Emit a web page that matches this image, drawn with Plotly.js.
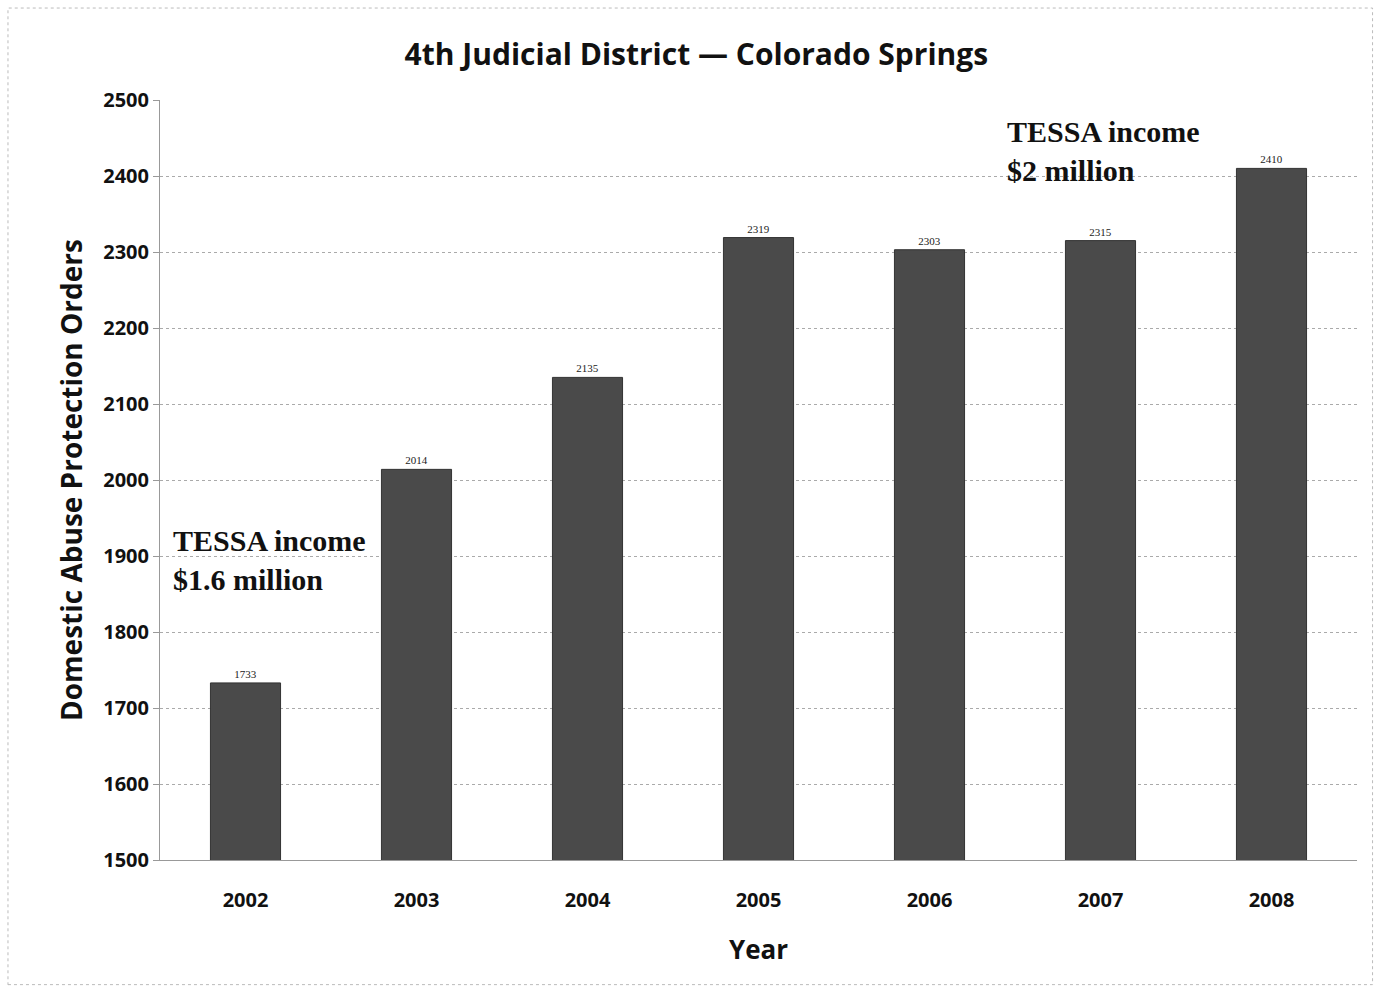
<!DOCTYPE html>
<html>
<head>
<meta charset="utf-8">
<script src="https://cdn.plot.ly/plotly-3.0.1.min.js"></script>
<style>
html,body{margin:0;padding:0;background:#fff;}
#chart{width:1379px;height:991px;}
</style>
</head>
<body>
<div id="chart"></div>
<script>
const years = ['2002','2003','2004','2005','2006','2007','2008'];
const orders = [1733, 2014, 2135, 2319, 2303, 2315, 2410];
const yTicks = [1500,1600,1700,1800,1900,2000,2100,2200,2300,2400,2500];

const trace = {
  type: 'bar',
  x: years,
  y: orders,
  marker: {color: '#4a4a4a', line: {color: '#333', width: 1}},
  text: orders.map(String),
  textposition: 'outside',
  textfont: {family: 'Liberation Serif', size: 11, color: '#222'},
  cliponaxis: false,
  hoverinfo: 'x+y'
};

const layout = {
  width: 1379, height: 991,
  margin: {l: 160, r: 22, t: 100, b: 131},
  paper_bgcolor: '#fff', plot_bgcolor: '#fff',
  bargap: 0.59,
  showlegend: false,
  title: {
    text: '<b>4th Judicial District — Colorado Springs</b>',
    font: {family: 'Open Sans', size: 30, color: '#111'},
    x: 0.505, xanchor: 'center', y: 0.945, yanchor: 'middle'
  },
  xaxis: {
    type: 'category',
    tickfont: {family: 'Open Sans', size: 20, color: '#111', weight: 'bold'},
    ticks: '', showgrid: false, showline: true, linecolor: '#999', linewidth: 1,
    ticklabelstandoff: 22,
    title: {text: '<b>Year</b>', font: {family: 'Open Sans', size: 26, color: '#111'}, standoff: 28}
  },
  yaxis: {
    range: [1500, 2500],
    tickvals: yTicks,
    ticktext: yTicks.map(String),
    tickfont: {family: 'Open Sans', size: 20, color: '#111', weight: 'bold'},
    ticks: 'outside', ticklen: 6, tickcolor: '#999',
    showgrid: true, gridcolor: '#aaa', griddash: 'dot', gridwidth: 1,
    showline: true, linecolor: '#999', linewidth: 1,
    zeroline: false,
    title: {text: '<b>Domestic Abuse Protection Orders</b>', font: {family: 'Open Sans', size: 28, color: '#111'}, standoff: 12}
  },
  shapes: [
    {type: 'rect', xref: 'paper', yref: 'paper', x0: -0.127, x1: 1.013, y0: -0.164, y1: 1.121,
     line: {color: '#bbb', width: 1, dash: 'dot'}, layer: 'below'}
  ],
  annotations: [
    {xref: 'paper', yref: 'paper', x: 0.009, y: 0.395, xanchor: 'left', yanchor: 'middle', align: 'left',
     text: '<b>TESSA income<br>$1.6 million</b>', showarrow: false,
     font: {family: 'Liberation Serif', size: 30, color: '#111'}},
    {xref: 'paper', yref: 'paper', x: 0.706, y: 0.933, xanchor: 'left', yanchor: 'middle', align: 'left',
     text: '<b>TESSA income<br>$2 million</b>', showarrow: false,
     font: {family: 'Liberation Serif', size: 30, color: '#111'}}
  ]
};

Plotly.newPlot('chart', [trace], layout, {displayModeBar: false});
</script>
</body>
</html>
